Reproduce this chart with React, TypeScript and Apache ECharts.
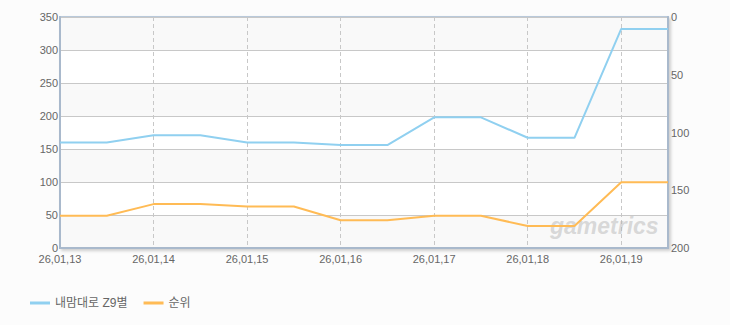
import React, { useEffect, useRef } from "react";
import * as echarts from "echarts";

const categories = [
  "26,01,13", "26,01,13.5", "26,01,14", "26,01,14.5", "26,01,15", "26,01,15.5", "26,01,16",
  "26,01,16.5", "26,01,17", "26,01,17.5", "26,01,18", "26,01,18.5", "26,01,19", "26,01,19.5",
];
const seriesNames = ["내맘대로 Z9별", "순위"];
const blueValues = [160, 160, 171, 171, 160, 160, 156, 156, 198, 198, 167, 167, 332, 332];
const rankValues = [172, 172, 162, 162, 164, 164, 176, 176, 172, 172, 181, 181, 143, 143];
const leftTicks = { min: 0, max: 350, interval: 50 };
const rightTicks = { min: 0, max: 200, interval: 50 };

const FONT = "'Liberation Sans', 'Noto Sans CJK KR', sans-serif";

export default function App() {
  const ref = useRef<HTMLDivElement>(null);
  useEffect(() => {
    if (!ref.current) return;
    const chart = echarts.init(ref.current, null, { renderer: "svg" });
    chart.setOption({
      animation: false,
      backgroundColor: "#fcfcfc",
      textStyle: { fontFamily: FONT },
      grid: {
        left: 60,
        right: 62,
        top: 17,
        bottom: 77,
        show: true,
        backgroundColor: "#ffffff",
        borderColor: "#b9c9da",
        borderWidth: 2,
        shadowColor: "rgba(0,0,0,0.18)",
        shadowBlur: 3,
        shadowOffsetX: 2,
        shadowOffsetY: 2,
      },
      legend: {
        left: 25,
        top: 292,
        itemWidth: 20,
        itemHeight: 3,
        itemGap: 16,
        icon: "rect",
        textStyle: { color: "#666", fontSize: 12, fontFamily: FONT },
        data: seriesNames,
      },
      xAxis: {
        type: "category",
        boundaryGap: false,
        data: categories,
        axisTick: { show: false },
        axisLine: { lineStyle: { color: "#a9b9cc", width: 2 } },
        axisLabel: {
          interval: 1,
          color: "#666",
          fontSize: 11,
          margin: 5,
          formatter: (v: string) => v.split(".")[0],
        },
        splitLine: {
          show: true,
          interval: 1,
          lineStyle: { color: "#c8c8c8", type: [4, 3], width: 1 },
        },
      },
      yAxis: [
        {
          type: "value",
          ...leftTicks,
          axisLine: { show: true, lineStyle: { color: "#a9b9cc", width: 2 } },
          axisTick: { show: false },
          axisLabel: { color: "#666", fontSize: 11, margin: 2 },
          splitLine: { lineStyle: { color: "#c8c8c8", width: 1 } },
          splitArea: { show: true, areaStyle: { color: ["#f9f9f9", "#ffffff"] } },
        },
        {
          type: "value",
          inverse: true,
          ...rightTicks,
          axisLine: { show: true, lineStyle: { color: "#a9b9cc", width: 2 } },
          axisTick: { show: false },
          axisLabel: { color: "#666", fontSize: 11, margin: 3 },
          splitLine: { show: false },
        },
      ],
      graphic: [
        {
          type: "text",
          left: 550,
          top: 214,
          z: 1,
          silent: true,
          style: {
            text: "gametrics",
            font: "italic bold 23px 'Liberation Sans', sans-serif",
            fill: "rgba(175,175,175,0.45)",
          },
        },
      ],
      series: [
        {
          name: seriesNames[0],
          type: "line",
          yAxisIndex: 0,
          data: blueValues,
          showSymbol: false,
          symbol: "none",
          lineStyle: { color: "#90d0f0", width: 2 },
          itemStyle: { color: "#90d0f0" },
          z: 3,
        },
        {
          name: seriesNames[1],
          type: "line",
          yAxisIndex: 1,
          data: rankValues,
          showSymbol: false,
          symbol: "none",
          lineStyle: { color: "#ffbb55", width: 2 },
          itemStyle: { color: "#ffbb55" },
          z: 3,
        },
      ],
    });
    return () => chart.dispose();
  }, []);
  return (
    <div
      ref={ref}
      style={{ position: "fixed", left: 0, top: 0, width: 730, height: 325 }}
    />
  );
}
